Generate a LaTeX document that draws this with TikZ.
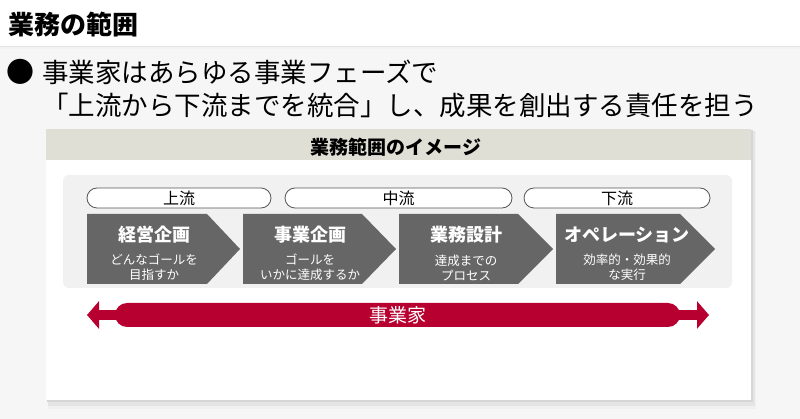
\documentclass[tikz,border=0pt]{standalone}
\usepackage{fontspec}
\setmainfont{Noto Sans CJK JP}
\usetikzlibrary{arrows.meta}
\definecolor{bgpage}{HTML}{F6F6F6}
\definecolor{band}{HTML}{E0DFD5}
\definecolor{innerbox}{HTML}{F1F1F1}
\definecolor{chev}{HTML}{666666}
\definecolor{crim}{HTML}{B80030}
\definecolor{pillline}{HTML}{555555}
\begin{document}
\begin{tikzpicture}[x=1pt,y=-1pt,
  chevbox/.style={fill=chev, draw=none},
  chevtitle/.style={text=white, font=\fontsize{18}{20}\selectfont\bfseries, inner sep=0pt},
  chevsub/.style={text=white, font=\fontsize{12.5}{15}\selectfont, align=center, inner sep=0pt},
  pill/.style={draw=pillline, line width=0.8pt, fill=white, rounded corners=10pt,
    minimum height=20pt, inner sep=0pt, font=\fontsize{16}{18}\selectfont},
  bigtext/.style={font=\fontsize{26.5}{30}\selectfont, inner sep=0pt},
]
\useasboundingbox (0,0) rectangle (800,419);
% page
\fill[white] (0,0) rectangle (800,46);
\fill[bgpage] (0,46) rectangle (800,419);
\fill[black!10] (0,46) rectangle (800,47.5);
\fill[black!5] (0,47.5) rectangle (800,49);
% title and lead text
\node[inner sep=0pt, anchor=west, font=\fontsize{26}{28}\selectfont\bfseries] (title) at (8,25) {業務の範囲};
\node[bigtext, font=\fontsize{28}{30}\selectfont] (bullet) at (20,72) {●};
\node[bigtext, anchor=west] (lead1) at (42,72) {事業家はあらゆる事業フェーズで};
\node[bigtext, anchor=west] (lead2) at (42,105) {「上流から下流までを統合」し、成果を創出する責任を担う};
% card with shadow
\fill[black!6] (48,131) rectangle (756,409);
\fill[black!10] (48,131) rectangle (754.5,406);
\fill[black!16] (47,130) rectangle (752.5,402);
\fill[white] (46,129) rectangle (751,400);
\fill[band] (46,129) rectangle (751,160);
\node[font=\fontsize{19}{21}\selectfont\bfseries, inner sep=0pt] (cardtitle) at (396,147) {業務範囲のイメージ};
% inner box
\fill[innerbox, rounded corners=6pt] (63,175) rectangle (732,288);
% pills
\node[pill, minimum width=184pt] (up) at (179,198) {上流};
\node[pill, minimum width=227pt] (mid) at (398.5,198) {中流};
\node[pill, minimum width=186pt] (down) at (617,198) {下流};
% chevrons
\fill[chevbox] (87,214) -- (207,214) -- (240,249) -- (207,284) -- (87,284) -- cycle;
\fill[chevbox] (243,214) -- (362,214) -- (396,249) -- (362,284) -- (243,284) -- cycle;
\fill[chevbox] (399,214) -- (518,214) -- (553,249) -- (518,284) -- (399,284) -- cycle;
\fill[chevbox] (556,214) -- (680,214) -- (715,249) -- (680,284) -- (556,284) -- cycle;
\node[chevtitle] (c1t) at (154,235) {経営企画};
\node[chevsub] (c1s) at (154,267.5) {どんなゴールを\\目指すか};
\node[chevtitle] (c2t) at (310,235) {事業企画};
\node[chevsub] (c2s) at (310,267.5) {ゴールを\\いかに達成するか};
\node[chevtitle] (c3t) at (466,235) {業務設計};
\node[chevsub] (c3s) at (466,267.5) {達成までの\\プロセス};
\node[chevtitle] (c4t) at (627,235) {オペレーション};
\node[chevsub] (c4s) at (627,267.5) {効率的・効果的\\な実行};
% red bar
\node[fill=crim, rounded corners=12pt, minimum width=565pt, minimum height=24pt,
  inner sep=0pt, text=white, font=\fontsize{19}{21}\selectfont] (actor) at (397.5,315) {事業家};
\coordinate (lt) at (87,315);
\coordinate (rt) at (709,315);
\draw[crim, line width=10pt, -{Triangle[length=12pt,width=27pt]}] ([xshift=2pt]actor.west) -- (lt);
\draw[crim, line width=10pt, -{Triangle[length=12pt,width=27pt]}] ([xshift=-2pt]actor.east) -- (rt);
\end{tikzpicture}
\end{document}
